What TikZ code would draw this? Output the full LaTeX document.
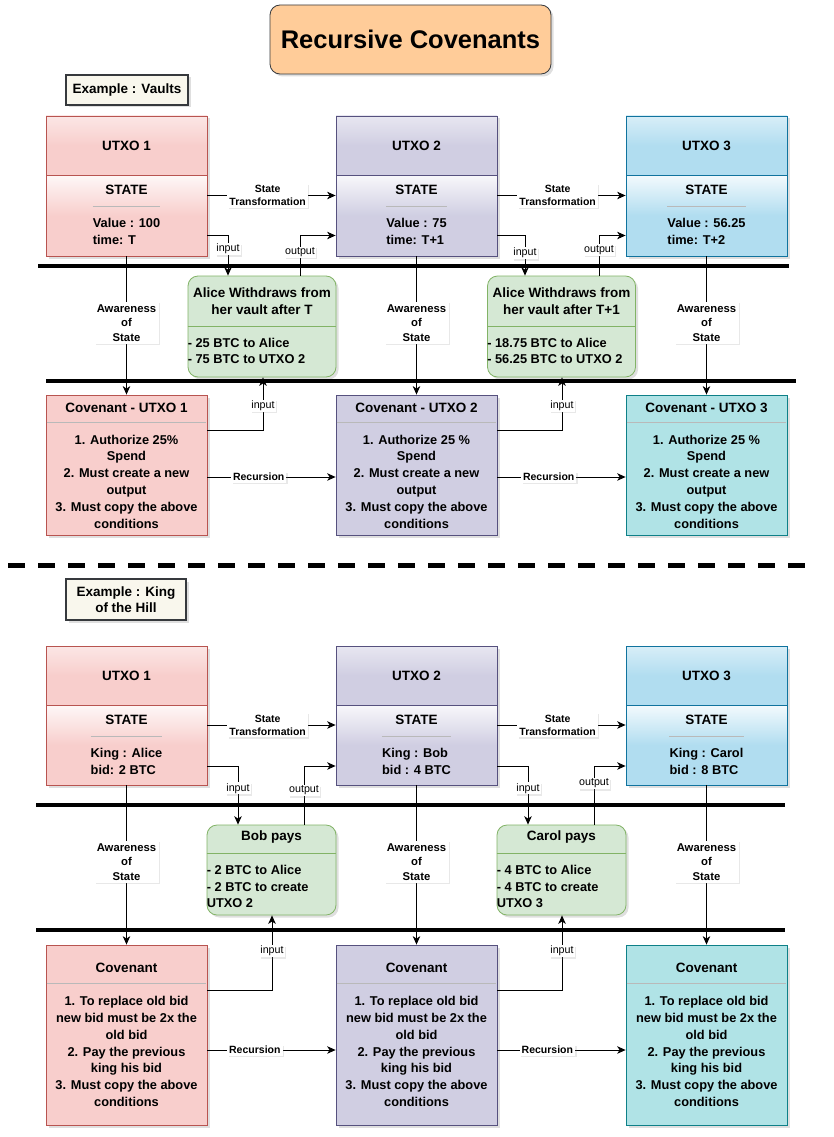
\documentclass[tikz,border=0pt]{standalone}
\usepackage{fontspec}
\setmainfont{Liberation Sans}
\usepackage{xcolor}
\usepackage{tikz}
\usetikzlibrary{positioning, arrows.meta, calc, shadows}

\definecolor{redF}{HTML}{F8CECC}\definecolor{redD}{HTML}{B85450}
\definecolor{purF}{HTML}{D0CEE2}\definecolor{purD}{HTML}{56517E}
\definecolor{bluF}{HTML}{B1DDF0}\definecolor{bluD}{HTML}{10739E}
\definecolor{teaF}{HTML}{B0E3E6}\definecolor{teaD}{HTML}{0E8088}
\definecolor{grnF}{HTML}{D5E8D4}\definecolor{grnD}{HTML}{82B366}
\definecolor{orgF}{HTML}{FFCC99}\definecolor{drkD}{HTML}{36393D}
\definecolor{noteF}{HTML}{F9F7ED}

\begin{document}
\begin{tikzpicture}[x=1pt, y=-1pt,
  shad/.style={drop shadow={shadow xshift=2.5pt, shadow yshift=-2.5pt, opacity=0.25}},
  lshad/.style={drop shadow={shadow xshift=1.5pt, shadow yshift=-1.5pt, opacity=0.18}},
  titlebox/.style={rectangle, rounded corners=10pt, draw=drkD, fill=orgF, line width=0.8pt, minimum width=281pt, minimum height=69pt, font=\fontsize{25.5}{30}\selectfont\bfseries, shad},
  note/.style={rectangle, draw=drkD, fill=noteF, line width=1.3pt, inner sep=0pt, align=center, font=\fontsize{13.5}{16.5}\selectfont\bfseries, shad},
  head/.style={rectangle, draw=#1D, line width=0.8pt, top color=white!50!#1F, bottom color=#1F, middle color=#1F, minimum width=161pt, minimum height=59pt, inner sep=0pt, font=\fontsize{13.5}{16}\selectfont\bfseries, shad},
  statebox/.style={rectangle, draw=#1D, line width=0.8pt, top color=white!85!#1F, bottom color=#1F, middle color=#1F, minimum width=161pt, inner sep=0pt, shad},
  cov/.style={rectangle, draw=#1D, fill=#1F, line width=0.8pt, minimum width=161pt, inner sep=0pt, shad},
  pay/.style={rectangle, rounded corners=10pt, draw=grnD, fill=grnF, line width=0.8pt, inner sep=0pt, shad},
  hdtxt/.style={inner sep=0pt, align=center, font=\fontsize{13.5}{16.8}\selectfont\bfseries},
  txt/.style={inner sep=0pt, align=center, font=\fontsize{12.8}{16.8}\selectfont\bfseries},
  sep/.style={draw=gray!55, line width=0.6pt},
  conn/.style={-{Stealth[length=8.5pt, width=7.5pt, inset=2.5pt]}, line width=0.8pt},
  lbl/.style={fill=white, inner sep=2pt, align=center, font=\fontsize{10.5}{13}\selectfont\bfseries, lshad},
  io/.style={fill=white, inner sep=1pt, font=\fontsize{10.7}{12}\selectfont, lshad},
  aware/.style={fill=white, inner sep=2.5pt, align=center, font=\fontsize{11.3}{14.5}\selectfont\bfseries, lshad},
  bar/.style={line width=4pt}
]
  \path[fill=white, use as bounding box] (0,0) rectangle (833,1137);

  % title
  \node[titlebox] (title) at (410.5,39.5) {Recursive Covenants};

  % ---------- example 1 : vaults ----------
  \node[note, minimum width=122pt, minimum height=30pt] (ex1) at (127,90) {Example : Vaults};

  % UTXO boxes
  \node[head=red] (u1) at (126.5,145.5) {UTXO 1};
  \node[statebox=red, minimum height=81pt] (s1) at (126.5,215.5) {};
  \node[head=pur] (u2) at (416.5,145.5) {UTXO 2};
  \node[statebox=pur, minimum height=81pt] (s2) at (416.5,215.5) {};
  \node[head=blu] (u3) at (706.5,145.5) {UTXO 3};
  \node[statebox=blu, minimum height=81pt] (s3) at (706.5,215.5) {};

  % state contents
  \node[hdtxt] (s1t) at (126.5,190) {STATE};
  \node[txt, align=left] (s1v) at (126.5,231.5) {Value : 100\\time: T};
  \draw[sep] ([yshift=12pt]s1v.north west) -- ([yshift=12pt]s1v.north east);
  \node[hdtxt] (s2t) at (416.5,190) {STATE};
  \node[txt, align=left] (s2v) at (416.5,231.5) {Value : 75\\time: T+1};
  \draw[sep] ([yshift=12pt]s2v.north west) -- ([yshift=12pt]s2v.north east);
  \node[hdtxt] (s3t) at (706.5,190) {STATE};
  \node[txt, align=left] (s3v) at (706.5,231.5) {Value : 56.25\\time: T+2};
  \draw[sep] ([yshift=12pt]s3v.north west) -- ([yshift=12pt]s3v.north east);

  % withdraw boxes
  \node[pay, minimum width=148pt, minimum height=101pt] (w1) at (262,326.5) {};
  \node[hdtxt] (w1h) at (262,301.5) {Alice Withdraws from\\her vault after T};
  \draw[draw=grnD, line width=0.6pt] (w1.west) -- (w1.east);
  \node[txt, align=left, anchor=west] (w1b) at ([yshift=-24.5pt]w1.west) {- 25 BTC to Alice\\- 75 BTC to UTXO 2};
  \node[pay, minimum width=148pt, minimum height=101pt] (w2) at (561.5,326.5) {};
  \node[hdtxt] (w2h) at (561.5,301.5) {Alice Withdraws from\\her vault after T+1};
  \draw[draw=grnD, line width=0.6pt] (w2.west) -- (w2.east);
  \node[txt, align=left, anchor=west] (w2b) at ([yshift=-24.5pt]w2.west) {- 18.75 BTC to Alice\\- 56.25 BTC to UTXO 2};

  % covenant boxes
  \node[cov=red, minimum height=140pt] (c1) at (126.5,465) {};
  \node[hdtxt] (c1h) at (126.5,408) {Covenant - UTXO 1};
  \draw[sep] ([xshift=1pt, yshift=-28pt]c1.north west) -- ([xshift=-1pt, yshift=-28pt]c1.north east);
  \node[txt] (c1b) at (126.5,481.5) {1. Authorize 25\%\\Spend\\2. Must create a new\\output\\3. Must copy the above\\conditions};
  \node[cov=pur, minimum height=140pt] (c2) at (416.5,465) {};
  \node[hdtxt] (c2h) at (416.5,408) {Covenant - UTXO 2};
  \draw[sep] ([xshift=1pt, yshift=-28pt]c2.north west) -- ([xshift=-1pt, yshift=-28pt]c2.north east);
  \node[txt] (c2b) at (416.5,481.5) {1. Authorize 25 \%\\Spend\\2. Must create a new\\output\\3. Must copy the above\\conditions};
  \node[cov=tea, minimum height=140pt] (c3) at (706.5,465) {};
  \node[hdtxt] (c3h) at (706.5,408) {Covenant - UTXO 3};
  \draw[sep] ([xshift=1pt, yshift=-28pt]c3.north west) -- ([xshift=-1pt, yshift=-28pt]c3.north east);
  \node[txt] (c3b) at (706.5,481.5) {1. Authorize 25 \%\\Spend\\2. Must create a new\\output\\3. Must copy the above\\conditions};

  % connectors
  \draw[conn] ([yshift=20pt]s1.east) -- node[lbl, pos=0.47] {State\\Transformation} ([yshift=20pt]s2.west);
  \draw[conn] ([yshift=20pt]s2.east) -- node[lbl, pos=0.47] {State\\Transformation} ([yshift=20pt]s3.west);
  \draw[conn] ([yshift=-20pt]s1.east) -| node[io, pos=0.67] {input} ([xshift=-34pt]w1.north);
  \draw[conn] ([xshift=38pt]w1.north) |- node[io, pos=0.29] {output} ([yshift=-20pt]s2.west);
  \draw[conn] ([yshift=-20pt]s2.east) -| node[io, pos=0.72] {input} ([xshift=-36.5pt]w2.north);
  \draw[conn] ([xshift=37.5pt]w2.north) |- node[io, pos=0.32] {output} ([yshift=-20pt]s3.west);
  \draw[conn] (s1.south) -- node[aware, pos=0.48] {Awareness\\of\\State} (c1.north);
  \draw[conn] (s2.south) -- node[aware, pos=0.48] {Awareness\\of\\State} (c2.north);
  \draw[conn] (s3.south) -- node[aware, pos=0.48] {Awareness\\of\\State} (c3.north);
  \draw[conn] ([yshift=35pt]c1.east) -| node[io, pos=0.73] {input} ([xshift=1pt]w1.south);
  \draw[conn] ([yshift=35pt]c2.east) -| node[io, pos=0.73] {input} ([xshift=0.5pt]w2.south);
  \draw[conn] ([yshift=-12pt]c1.east) -- node[lbl, pos=0.4] {Recursion} ([yshift=-12pt]c2.west);
  \draw[conn] ([yshift=-12pt]c2.east) -- node[lbl, pos=0.4] {Recursion} ([yshift=-12pt]c3.west);

  % bars
  \coordinate (b1l) at (38,266);  \coordinate (b1r) at (789,266);
  \coordinate (b2l) at (46,381);  \coordinate (b2r) at (796,381);
  \draw[bar] (b1l) -- (b1r);
  \draw[bar] (b2l) -- (b2r);

  % dashed divider
  \coordinate (dashl) at (8,565);  \coordinate (dashr) at (805,565);
  \draw[line width=5pt, dash pattern=on 17pt off 13pt] (dashl) -- (dashr);

  % ---------- example 2 : king of the hill ----------
  \node[note, minimum width=120pt, minimum height=41pt] (ex2) at (126,599.5) {Example : King\\of the Hill};

  % UTXO boxes
  \node[head=red] (ku1) at (126.5,675.5) {UTXO 1};
  \node[statebox=red, minimum height=80pt] (ks1) at (126.5,745) {};
  \node[head=pur] (ku2) at (416.5,675.5) {UTXO 2};
  \node[statebox=pur, minimum height=80pt] (ks2) at (416.5,745) {};
  \node[head=blu] (ku3) at (706.5,675.5) {UTXO 3};
  \node[statebox=blu, minimum height=80pt] (ks3) at (706.5,745) {};

  % state contents
  \node[hdtxt] (ks1t) at (126.5,720) {STATE};
  \node[txt, align=left] (ks1v) at (126.5,761.5) {King : Alice\\bid: 2 BTC};
  \draw[sep] ([yshift=12pt]ks1v.north west) -- ([yshift=12pt]ks1v.north east);
  \node[hdtxt] (ks2t) at (416.5,720) {STATE};
  \node[txt, align=left] (ks2v) at (416.5,761.5) {King : Bob\\bid : 4 BTC};
  \draw[sep] ([yshift=12pt]ks2v.north west) -- ([yshift=12pt]ks2v.north east);
  \node[hdtxt] (ks3t) at (706.5,720) {STATE};
  \node[txt, align=left] (ks3v) at (706.5,761.5) {King : Carol\\bid : 8 BTC};
  \draw[sep] ([yshift=12pt]ks3v.north west) -- ([yshift=12pt]ks3v.north east);

  % pay boxes
  \node[pay, minimum width=129pt, minimum height=90pt] (p1) at (271.5,870) {};
  \node[hdtxt] (p1h) at (271.5,837) {Bob pays};
  \draw[draw=grnD, line width=0.6pt] ([yshift=17pt]p1.west) -- ([yshift=17pt]p1.east);
  \node[txt, align=left, anchor=west] (p1b) at ([yshift=-16.5pt]p1.west) {- 2 BTC to Alice\\- 2 BTC to create\\UTXO 2};
  \node[pay, minimum width=129pt, minimum height=90pt] (p2) at (561.5,870) {};
  \node[hdtxt] (p2h) at (561.5,837) {Carol pays};
  \draw[draw=grnD, line width=0.6pt] ([yshift=17pt]p2.west) -- ([yshift=17pt]p2.east);
  \node[txt, align=left, anchor=west] (p2b) at ([yshift=-16.5pt]p2.west) {- 4 BTC to Alice\\- 4 BTC to create\\UTXO 3};

  % covenant boxes
  \node[cov=red, minimum height=180pt] (kc1) at (126.5,1035) {};
  \node[hdtxt] (kc1h) at (126.5,968) {Covenant};
  \draw[sep] ([xshift=1pt, yshift=-39pt]kc1.north west) -- ([xshift=-1pt, yshift=-39pt]kc1.north east);
  \node[txt] (kc1b) at (126.5,1051.5) {1. To replace old bid\\new bid must be 2x the\\old bid\\2. Pay the previous\\king his bid\\3. Must copy the above\\conditions};
  \node[cov=pur, minimum height=180pt] (kc2) at (416.5,1035) {};
  \node[hdtxt] (kc2h) at (416.5,968) {Covenant};
  \draw[sep] ([xshift=1pt, yshift=-39pt]kc2.north west) -- ([xshift=-1pt, yshift=-39pt]kc2.north east);
  \node[txt] (kc2b) at (416.5,1051.5) {1. To replace old bid\\new bid must be 2x the\\old bid\\2. Pay the previous\\king his bid\\3. Must copy the above\\conditions};
  \node[cov=tea, minimum height=180pt] (kc3) at (706.5,1035) {};
  \node[hdtxt] (kc3h) at (706.5,968) {Covenant};
  \draw[sep] ([xshift=1pt, yshift=-39pt]kc3.north west) -- ([xshift=-1pt, yshift=-39pt]kc3.north east);
  \node[txt] (kc3b) at (706.5,1051.5) {1. To replace old bid\\new bid must be 2x the\\old bid\\2. Pay the previous\\king his bid\\3. Must copy the above\\conditions};

  % connectors
  \draw[conn] ([yshift=20pt]ks1.east) -- node[lbl, pos=0.47] {State\\Transformation} ([yshift=20pt]ks2.west);
  \draw[conn] ([yshift=20pt]ks2.east) -- node[lbl, pos=0.47] {State\\Transformation} ([yshift=20pt]ks3.west);
  \draw[conn] ([yshift=-21pt]ks1.east) -| node[io, pos=0.69] {input} ([xshift=-33.5pt]p1.north);
  \draw[conn] ([xshift=32.5pt]p1.north) |- node[io, pos=0.29] {output} ([yshift=-21pt]ks2.west);
  \draw[conn] ([yshift=-21pt]ks2.east) -| node[io, pos=0.69] {input} ([xshift=-33.5pt]p2.north);
  \draw[conn] ([xshift=32.5pt]p2.north) |- node[io, pos=0.35] {output} ([yshift=-21pt]ks3.west);
  \draw[conn] (ks1.south) -- node[aware, pos=0.48] {Awareness\\of\\State} (kc1.north);
  \draw[conn] (ks2.south) -- node[aware, pos=0.48] {Awareness\\of\\State} (kc2.north);
  \draw[conn] (ks3.south) -- node[aware, pos=0.48] {Awareness\\of\\State} (kc3.north);
  \draw[conn] ([yshift=45pt]kc1.east) -| node[io, pos=0.76] {input} ([xshift=0.5pt]p1.south);
  \draw[conn] ([yshift=45pt]kc2.east) -| node[io, pos=0.76] {input} ([xshift=0.5pt]p2.south);
  \draw[conn] ([yshift=-15pt]kc1.east) -- node[lbl, pos=0.37] {Recursion} ([yshift=-15pt]kc2.west);
  \draw[conn] ([yshift=-15pt]kc2.east) -- node[lbl, pos=0.39] {Recursion} ([yshift=-15pt]kc3.west);

  % bars
  \coordinate (b3l) at (36,805);  \coordinate (b3r) at (785,805);
  \coordinate (b4l) at (36,930);  \coordinate (b4r) at (785,930);
  \draw[bar] (b3l) -- (b3r);
  \draw[bar] (b4l) -- (b4r);
\end{tikzpicture}
\end{document}
